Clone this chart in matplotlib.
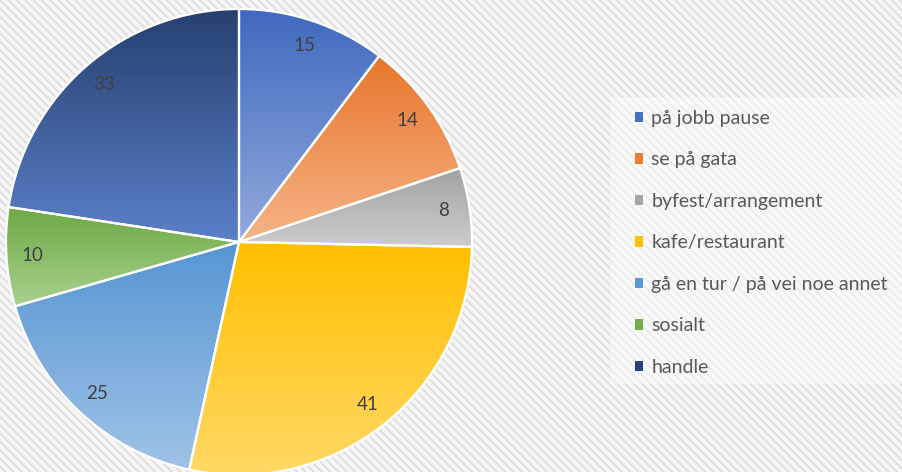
import numpy as np
import matplotlib
matplotlib.use("Agg")
import matplotlib.pyplot as plt
from matplotlib.colors import LinearSegmentedColormap
from matplotlib.patches import Patch, Rectangle

# data
categories = ["på jobb pause", "se på gata", "byfest/arrangement", "kafe/restaurant",
              "gå en tur / på vei noe annet", "sosialt", "handle"]
values = [15, 14, 8, 41, 25, 10, 33]

# gradient colours, top (dark) -> bottom (light)
top_colors = ["#3F69BE", "#E8762C", "#A2A2A2", "#FFBF00", "#5695D2", "#6CA843", "#26406F"]
bottom_colors = ["#93AADC", "#F5B487", "#CDCDCD", "#FFD966", "#A0C3E7", "#A9D18E", "#5C80C9"]
legend_colors = ["#4472C4", "#ED7D31", "#A5A5A5", "#FFC000", "#5B9BD5", "#70AD47", "#264478"]

plt.rcParams['font.family'] = ['Lato', 'DejaVu Sans']
plt.rcParams['hatch.color'] = '#DADADA'
plt.rcParams['hatch.linewidth'] = 1.1

W, H = 903, 472
fig = plt.figure(figsize=(W / 100, H / 100), dpi=100)
fig.patch.set_facecolor('#F5F5F5')

# hatched background
bg = Rectangle((0, 0), 1, 1, transform=fig.transFigure, facecolor='#F5F5F5',
               hatch='\\\\\\\\', edgecolor='#DADADA', linewidth=0, zorder=-10)
fig.patches.append(bg)

# pie axes, centre (239,242) px from top, radius 233 px
cx, cy, r = 239, H - 242, 233
ax = fig.add_axes([(cx - r) / W, (cy - r) / H, 2 * r / W, 2 * r / H])
ax.set_xlim(-1, 1)
ax.set_ylim(-1, 1)
ax.set_aspect('equal')
ax.axis('off')

wedges, texts = ax.pie(values, startangle=90, counterclock=False, radius=1,
                       labels=[str(v) for v in values], labeldistance=0.89,
                       wedgeprops=dict(edgecolor='white', linewidth=1.6, facecolor='none'),
                       textprops=dict(color='#404040', fontsize=13.5),
                       frame=False)

for w, c0, c1 in zip(wedges, top_colors, bottom_colors):
    w.set_zorder(3)
    ext = w.get_path().get_extents(w.get_patch_transform())
    cmap = LinearSegmentedColormap.from_list('g', [c1, c0])
    grad = np.linspace(1, 0, 256).reshape(-1, 1)
    im = ax.imshow(grad, cmap=cmap, aspect='auto', vmin=0, vmax=1,
                   extent=[ext.x0, ext.x1, ext.y0, ext.y1], origin='upper', zorder=2)
    im.set_clip_path(w)
for t in texts:
    t.set_zorder(4)
    t.set_ha('center')
    t.set_va('center')
ax.set_xlim(-1, 1)
ax.set_ylim(-1, 1)

# legend box
box = Rectangle((610 / W, 1 - 384 / H), (W - 610) / W, (384 - 97) / H, transform=fig.transFigure,
                facecolor='white', alpha=0.45, edgecolor='none', zorder=-5)
fig.patches.append(box)

handles = [Patch(facecolor=c, edgecolor='none') for c in legend_colors]
leg = fig.legend(handles, categories, loc='upper left', bbox_to_anchor=(625 / W, 1 - 100 / H),
                 frameon=False, fontsize=14, labelcolor='#595959', handlelength=0.45,
                 handleheight=0.45, handletextpad=0.4, labelspacing=1.26, borderpad=0)

fig.savefig('out.png', dpi=100, facecolor=fig.get_facecolor())
